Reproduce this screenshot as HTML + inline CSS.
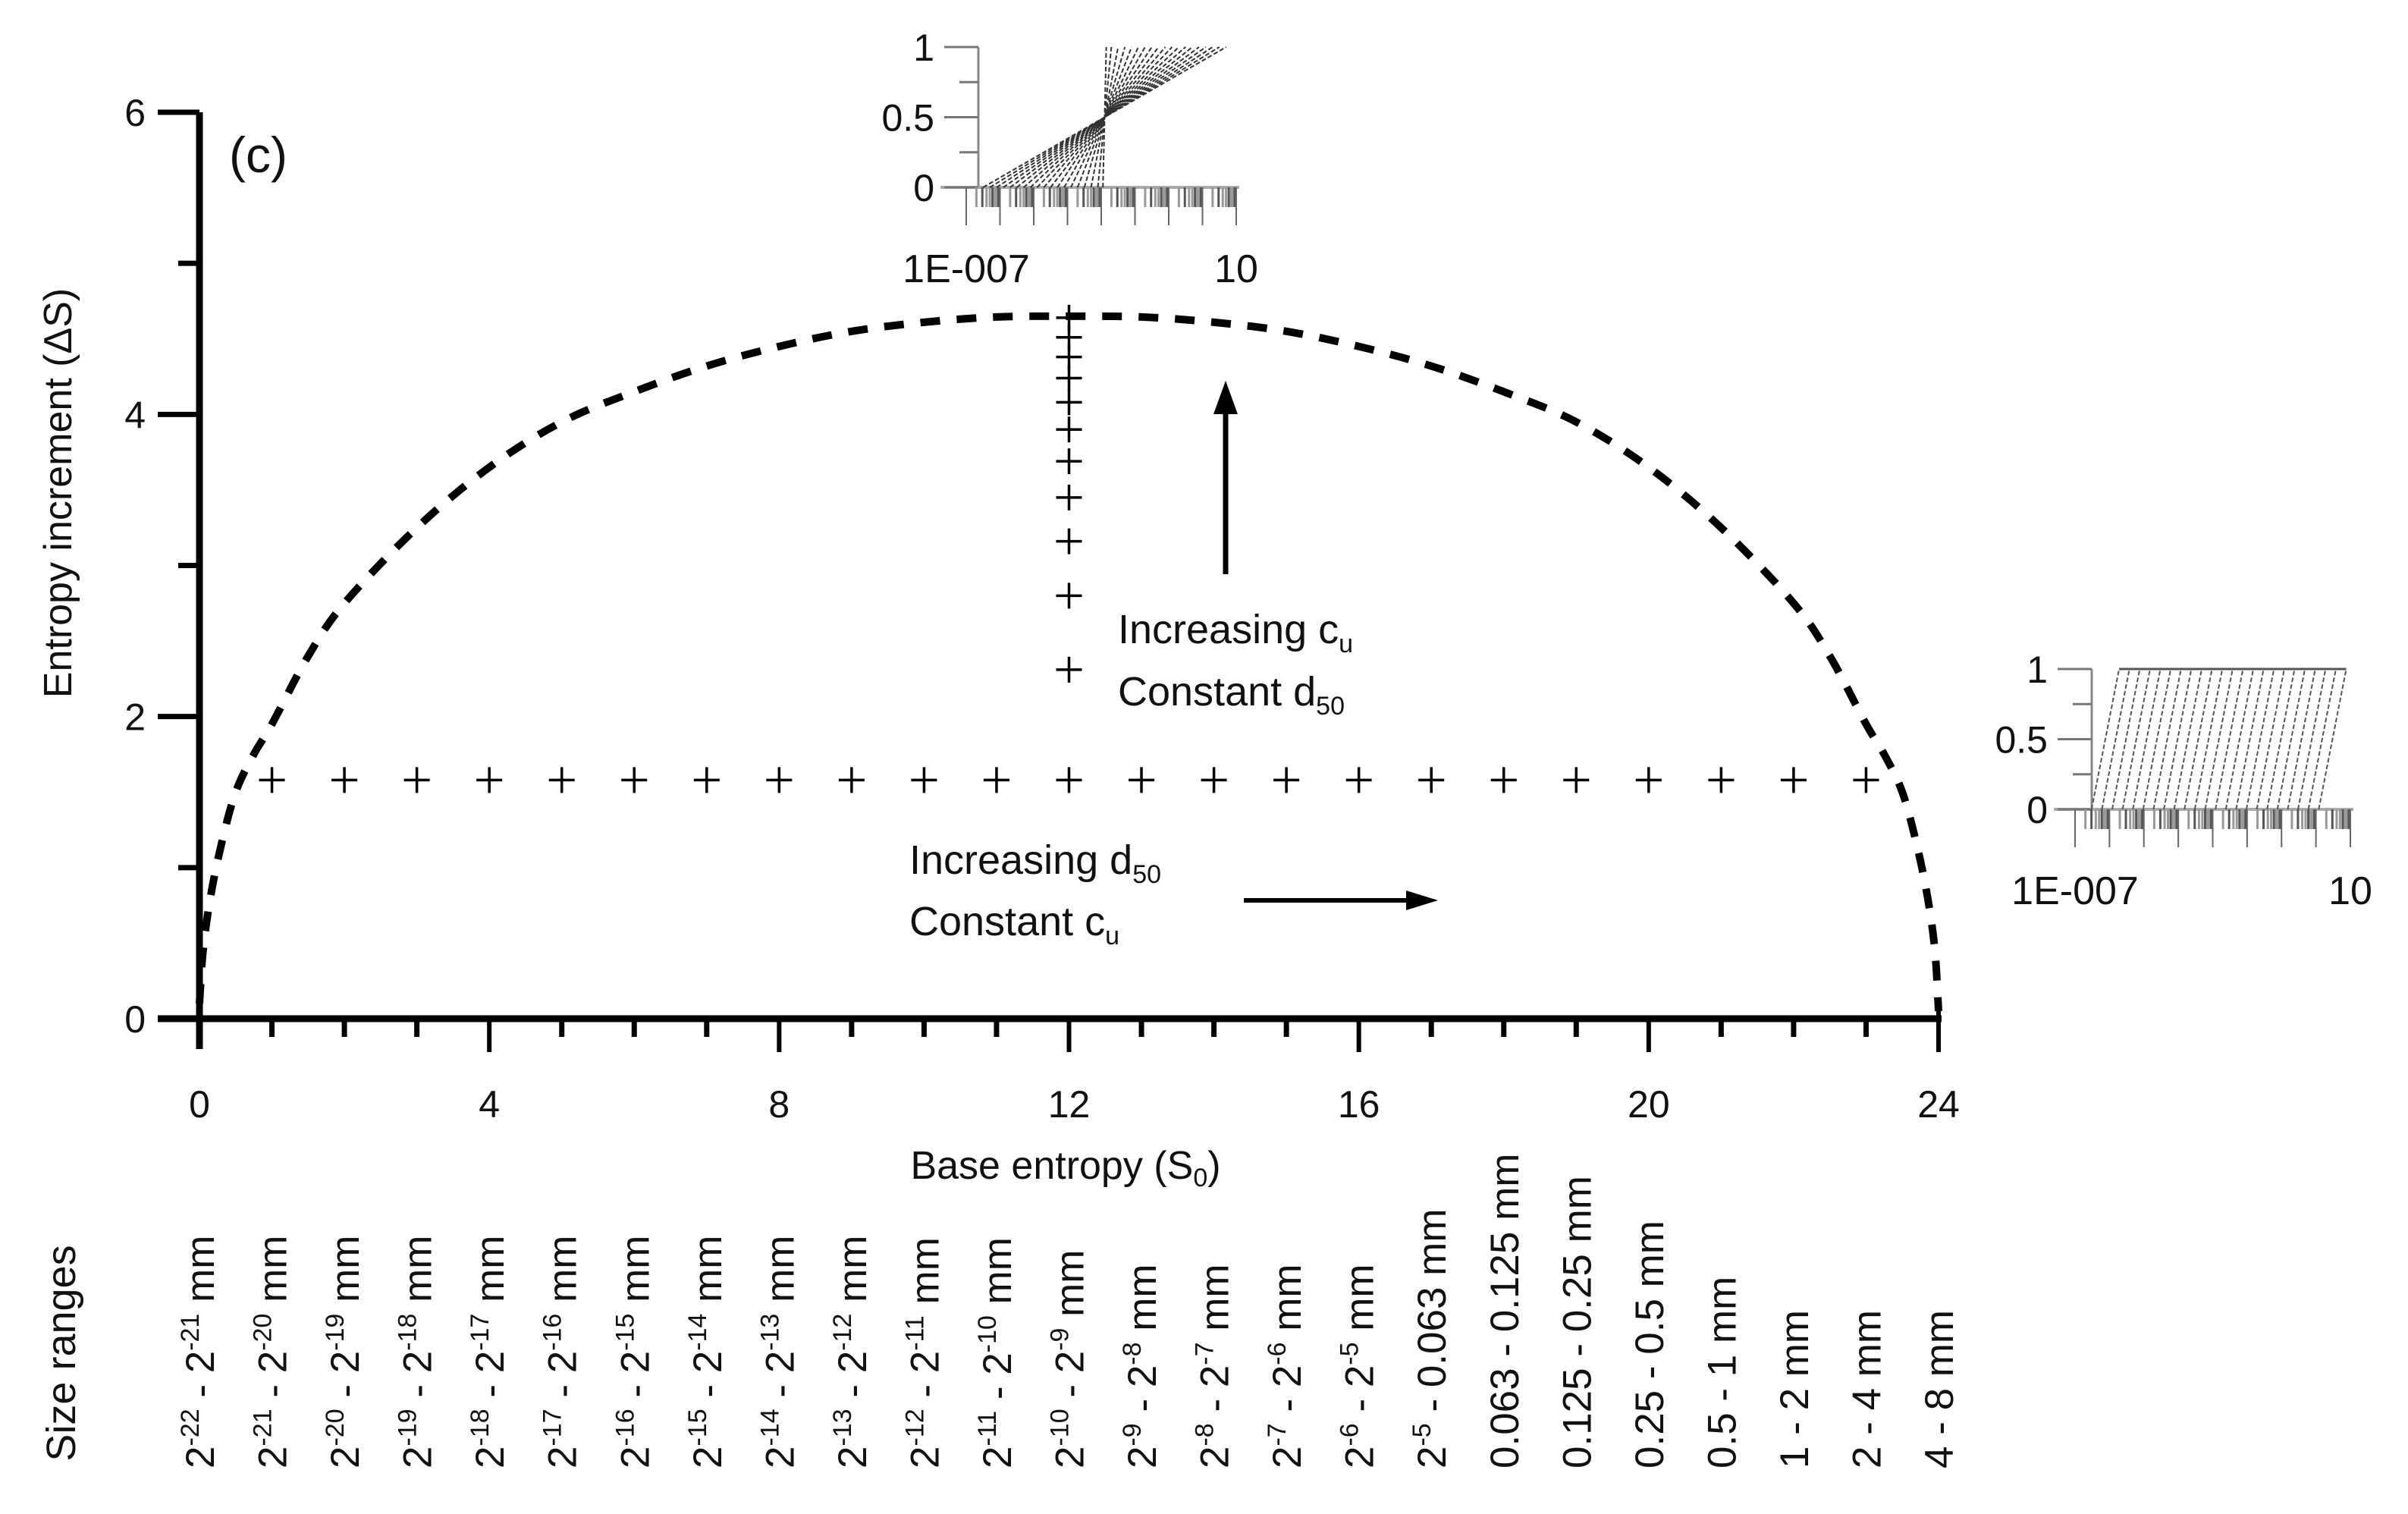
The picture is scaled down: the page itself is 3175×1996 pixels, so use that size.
<!DOCTYPE html>
<html><head><meta charset="utf-8"><title>Entropy increment chart</title>
<style>html,body{margin:0;padding:0;background:#fff}svg{display:block}text{font-family:"Liberation Sans",sans-serif;fill:#111}</style>
</head><body>
<svg id="chart" xmlns="http://www.w3.org/2000/svg" width="3175" height="1996" viewBox="0 0 3175 1996">
<g id="main"></g>
<g id="inset1"></g>
<g id="inset2"></g>
</svg>
<script>
// ---- data ----
const curveX = [0, 0.05, 0.15, 0.3, 0.5, 0.75, 1, 1.5, 2, 3, 4, 5, 6, 7, 8, 9, 10, 11, 12, 13, 14, 15, 16, 17, 18, 19, 20, 21, 22, 22.5, 23, 23.25, 23.5, 23.7, 23.85, 23.95, 24];
const curveY = [0.1, 0.45, 0.8, 1.15, 1.5, 1.75, 1.95, 2.4, 2.75, 3.25, 3.65, 3.95, 4.15, 4.32, 4.45, 4.55, 4.61, 4.645, 4.65, 4.645, 4.61, 4.55, 4.45, 4.32, 4.15, 3.95, 3.65, 3.25, 2.75, 2.4, 1.95, 1.75, 1.5, 1.15, 0.8, 0.45, 0.05];
const hCrossX = [1,2,3,4,5,6,7,8,9,10,11,12,13,14,15,16,17,18,19,20,21,22,23];
const hCrossY = 1.58;
const vCrossX = 12;
const vCrossY = [4.64, 4.51, 4.38, 4.24, 4.08, 3.90, 3.69, 3.45, 3.16, 2.80, 2.31];
const xTicks = [0, 4, 8, 12, 16, 20, 24];
const yTicks = [0, 2, 4, 6];
const sizeLabels = [
 ["2","-22"," - 2","-21"," mm"],["2","-21"," - 2","-20"," mm"],["2","-20"," - 2","-19"," mm"],["2","-19"," - 2","-18"," mm"],
 ["2","-18"," - 2","-17"," mm"],["2","-17"," - 2","-16"," mm"],["2","-16"," - 2","-15"," mm"],["2","-15"," - 2","-14"," mm"],
 ["2","-14"," - 2","-13"," mm"],["2","-13"," - 2","-12"," mm"],["2","-12"," - 2","-11"," mm"],["2","-11"," - 2","-10"," mm"],
 ["2","-10"," - 2","-9"," mm"],["2","-9"," - 2","-8"," mm"],["2","-8"," - 2","-7"," mm"],["2","-7"," - 2","-6"," mm"],
 ["2","-6"," - 2","-5"," mm"],["2","-5"," - 0.063 mm"],["0.063 - 0.125 mm"],["0.125 - 0.25 mm"],["0.25 - 0.5 mm"],
 ["0.5 - 1 mm"],["1 - 2 mm"],["2 - 4 mm"],["4 - 8 mm"]];
const inset1Center = -2.9;
const inset1Half = [0.05, 0.2, 0.4, 0.6, 0.8, 1.0, 1.2, 1.4, 1.6, 1.8, 2.0, 2.2, 2.4, 2.6, 2.8, 3.0, 3.2, 3.4, 3.6];
const inset2Half = 0.4;
const inset2D50 = [-6.12,-5.82,-5.52,-5.22,-4.92,-4.62,-4.32,-4.02,-3.72,-3.42,-3.12,-2.82,-2.52,-2.22,-1.92,-1.62,-1.32,-1.02,-0.72,-0.42,-0.12,0.18,0.48];

const NS = "http://www.w3.org/2000/svg";
function mk(parent, tag, attrs, txt){const e=document.createElementNS(NS,tag);for(const k in attrs)e.setAttribute(k,attrs[k]);if(txt!==undefined)e.textContent=txt;parent.appendChild(e);return e;}

const X0=263, X1=2556, Y0=1343, Y1=148;
const sx = v => X0 + (X1-X0)*v/24;
const sy = v => Y0 - (Y0-Y1)*v/6;
const g = document.getElementById('main');

let e = mk(g,'line',{x1:X0,y1:Y1,x2:X0,y2:Y0+40,stroke:'#000','stroke-width':9});
 
e = mk(g,'line',{x1:X0-55,y1:Y0,x2:X1+4,y2:Y0,stroke:'#000','stroke-width':9});
 
e = mk(g,'line',{x1:X1,y1:Y0-25,x2:X1,y2:Y0+44,stroke:'#000','stroke-width':6});
 

for(let v=0; v<=6; v++){
  const major = v%2===0;
  e = mk(g,'line',{x1:major?X0-55:X0-28,y1:sy(v),x2:X0,y2:sy(v),stroke:'#000','stroke-width':7});
   
}
yTicks.forEach(v=>{
  e = mk(g,'text',{x:192,y:sy(v)+18,'text-anchor':'end','font-size':50},String(v));
   
});
for(let v=1; v<=23; v++){
  const major = v%4===0;
  e = mk(g,'line',{x1:sx(v),y1:Y0,x2:sx(v),y2:major?Y0+44:Y0+24,stroke:'#000','stroke-width':major?6:7});
   
}
xTicks.forEach(v=>{
  e = mk(g,'text',{x:sx(v),y:1473,'text-anchor':'middle','font-size':50},String(v));
   
});

e = mk(g,'text',{x:1405,y:1554,'text-anchor':'middle','font-size':52});
 
e.innerHTML='Base entropy (S<tspan font-size="34" dy="10">0</tspan><tspan dy="-10">)</tspan>';
e = mk(g,'text',{transform:'translate(94,650) rotate(-90)','text-anchor':'middle','font-size':52});
 
e.textContent='Entropy increment (\u0394S)';
e = mk(g,'text',{x:302,y:227,'font-size':66},'(c)');
 

// smooth curve (Catmull-Rom)
const P = curveX.map((x,i)=>[sx(x),sy(curveY[i])]);
let d = `M${P[0][0]},${P[0][1]}`;
for(let i=0;i<P.length-1;i++){
  const p0=P[Math.max(i-1,0)], p1=P[i], p2=P[i+1], p3=P[Math.min(i+2,P.length-1)];
  const c1=[p1[0]+(p2[0]-p0[0])/6, p1[1]+(p2[1]-p0[1])/6];
  const c2=[p2[0]-(p3[0]-p1[0])/6, p2[1]-(p3[1]-p1[1])/6];
  d += ` C${c1[0]},${c1[1]} ${c2[0]},${c2[1]} ${p2[0]},${p2[1]}`;
}
e = mk(g,'path',{d:d,fill:'none',stroke:'#000','stroke-width':10,'stroke-dasharray':'26 22'});
 

function cross(x,y,name){
  const c = mk(g,'path',{d:`M${x-17},${y}H${x+17}M${x},${y-17}V${y+17}`,stroke:'#000','stroke-width':3.5,fill:'none'});
   
}
hCrossX.forEach(x=>cross(sx(x),sy(hCrossY),'cross-constant-cu'));
vCrossY.forEach(y=>cross(sx(vCrossX),sy(y),'cross-constant-d50'));

e = mk(g,'text',{x:1474,y:848,'font-size':54});
 
e.innerHTML='Increasing c<tspan font-size="34" dy="12">u</tspan>';
e = mk(g,'text',{x:1474,y:930,'font-size':54});
 
e.innerHTML='Constant d<tspan font-size="34" dy="12">50</tspan>';
e = mk(g,'text',{x:1199,y:1152,'font-size':54});
 
e.innerHTML='Increasing d<tspan font-size="34" dy="12">50</tspan>';
e = mk(g,'text',{x:1199,y:1233,'font-size':54});
 
e.innerHTML='Constant c<tspan font-size="34" dy="12">u</tspan>';
e = mk(g,'path',{d:'M1616,757V540',stroke:'#000','stroke-width':7});
 
e = mk(g,'path',{d:'M1616,502L1600,546H1632Z',fill:'#000'});
 
e = mk(g,'path',{d:'M1640,1187H1860',stroke:'#000','stroke-width':6});
 
e = mk(g,'path',{d:'M1896,1187L1854,1174V1200Z',fill:'#000'});
 

e = mk(g,'text',{transform:'translate(99,1784) rotate(-90)','text-anchor':'middle','font-size':54},'Size ranges');
 
sizeLabels.forEach((parts,i)=>{
  const t = mk(g,'text',{transform:`translate(${sx(i)+19},1936) rotate(-90)`,'font-size':53});
   
  let html='';
  parts.forEach((p,j)=>{
    if(parts.length>1 && j%2===1) html+=`<tspan font-size="34" dy="-20">${p}</tspan>`;
    else if(j>0 && parts.length>1) html+=`<tspan dy="20">${p}</tspan>`;
    else html+=`<tspan>${p}</tspan>`;
  });
  t.innerHTML=html;
});

function inset(id, ax, ay0, ay1, lx0, lx1, lines, lineColor){
  const G = document.getElementById(id);
  const lgx = v => lx0 + (lx1-lx0)*(v+7)/8;
  const ly = v => ay0 - (ay0-ay1)*v;
  let q = mk(G,'line',{x1:ax,y1:ay1,x2:ax,y2:ay0,stroke:'#888','stroke-width':3});
   
  q = mk(G,'line',{x1:ax-50,y1:ay0,x2:lx1+4,y2:ay0,stroke:'#aaa','stroke-width':4});
   
  [0,0.25,0.5,0.75,1].forEach(v=>{
    const major = v===0||v===0.5||v===1;
    q = mk(G,'line',{x1:major?ax-45:ax-25,y1:ly(v),x2:ax,y2:ly(v),stroke:'#777','stroke-width':3});
     
  });
  [[0,'0'],[0.5,'0.5'],[1,'1']].forEach(([v,s])=>{
    q = mk(G,'text',{x:ax-58,y:ly(v)+18,'text-anchor':'end','font-size':50},s);
     
  });
  for(let dd=-7; dd<=1; dd++){
    q = mk(G,'line',{x1:lgx(dd),y1:ay0,x2:lgx(dd),y2:ay0+50,stroke:'#666','stroke-width':2});
     
    if(dd<1) for(let m=2;m<=9;m++){
      const lx = lgx(dd+Math.log10(m));
      q = mk(G,'line',{x1:lx,y1:ay0,x2:lx,y2:ay0+26,stroke:m%3===0?'#555':'#999','stroke-width':3});
       
    }
  }
  q = mk(G,'text',{x:lgx(-7),y:ay0+125,'text-anchor':'middle','font-size':52},'1E-007');
   
  q = mk(G,'text',{x:lgx(1),y:ay0+125,'text-anchor':'middle','font-size':52},'10');
   
  lines.forEach(([a,b])=>{
    q = mk(G,'line',{x1:lgx(a),y1:ly(0),x2:lgx(b),y2:ly(1),stroke:lineColor,'stroke-width':2,'stroke-dasharray':'6 3'});
     
  });
  return {lgx,ly,G};
}
const r1 = inset('inset1',1290,247,62,1274,1630, inset1Half.map(h=>[inset1Center-h,inset1Center+h]), '#333');
const r2 = inset('inset2',2758,1067,882,2736,3099, inset2D50.map(v=>[v-inset2Half,v+inset2Half]), '#555');
e = mk(r2.G,'line',{x1:r2.lgx(inset2D50[0]+inset2Half),y1:882,x2:r2.lgx(inset2D50[inset2D50.length-1]+inset2Half),y2:882,stroke:'#555','stroke-width':3});
 
</script>
</body></html>
